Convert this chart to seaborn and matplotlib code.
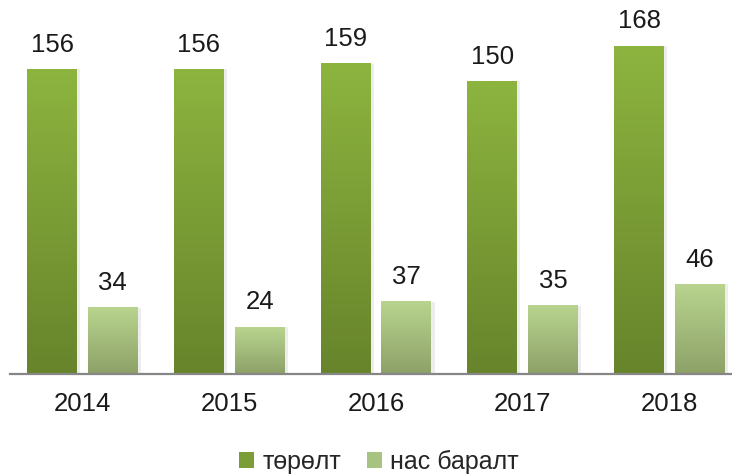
import numpy as np
import pandas as pd
import matplotlib
matplotlib.use('Agg')
import matplotlib.pyplot as plt
import seaborn as sns
from matplotlib.colors import LinearSegmentedColormap
from matplotlib.patches import Patch

years = ['2014', '2015', '2016', '2017', '2018']
births = [156, 156, 159, 150, 168]
deaths = [34, 24, 37, 35, 46]
series = ['төрөлт', 'нас баралт']

df = pd.DataFrame({
    'year': years * 2,
    'value': births + deaths,
    'series': [series[0]] * 5 + [series[1]] * 5,
})

sns.set_theme(style='white')
plt.rcParams['font.family'] = ['Liberation Sans', 'DejaVu Sans']

fig = plt.figure(figsize=(7.32, 4.76), dpi=100)
ax = fig.add_axes([10 / 732, 102 / 476, 722 / 732, 374 / 476])

ax = sns.barplot(data=df, x='year', y='value', hue='series', hue_order=series,
                 palette=['#7ba036', '#a6bf7c'], width=0.828, gap=0.18,
                 legend=False, ax=ax)

grads = {
    0: ('#8db43f', '#67842b'),
    1: ('#b8d48e', '#8da168'),
}
grad = np.linspace(0, 1, 256).reshape(-1, 1)
bars = [p for p in ax.patches if p.get_height() > 0]
for i, p in enumerate(bars):
    k = 0 if i < 5 else 1
    cmap = LinearSegmentedColormap.from_list('g%d' % k, [grads[k][1], grads[k][0]])
    x0, w, h = p.get_x(), p.get_width(), p.get_height()
    # soft shadow
    ax.bar(x0 + w / 2 + 0.012, h, width=w + 0.02, bottom=0, color='#000000',
           alpha=0.07, zorder=1, linewidth=0)
    p.set_facecolor('none')
    p.set_edgecolor('none')
    ax.imshow(grad, cmap=cmap, origin='lower', aspect='auto',
              extent=[x0, x0 + w, 0, h], zorder=2)
    ax.text(x0 + w / 2, h + 6.5, str(int(h)), ha='center', va='bottom',
            fontsize=18.5, color='#1a1a1a', zorder=3)

ax.set_xlim(-0.494, 4.426)
ax.set_ylim(0, 191.6)
ax.set_xlabel('')
ax.set_ylabel('')
ax.set_yticks([])
ax.tick_params(axis='x', length=0, pad=13, labelsize=18.5, colors='#1a1a1a')
for s in ['top', 'right', 'left']:
    ax.spines[s].set_visible(False)
ax.spines['bottom'].set_color('#868686')
ax.spines['bottom'].set_linewidth(1.6)
ax.spines['bottom'].set_zorder(4)

handles = [Patch(facecolor='#7a9e35', edgecolor='none'),
           Patch(facecolor='#a8c27f', edgecolor='none')]
fig.legend(handles, series, loc='center', bbox_to_anchor=(379 / 732, 1 - 462 / 476),
           ncol=2, frameon=False, fontsize=18, handlelength=0.6, handleheight=0.6,
           handletextpad=0.35, columnspacing=1.0, borderpad=0)

fig.savefig('out.png', dpi=100)
